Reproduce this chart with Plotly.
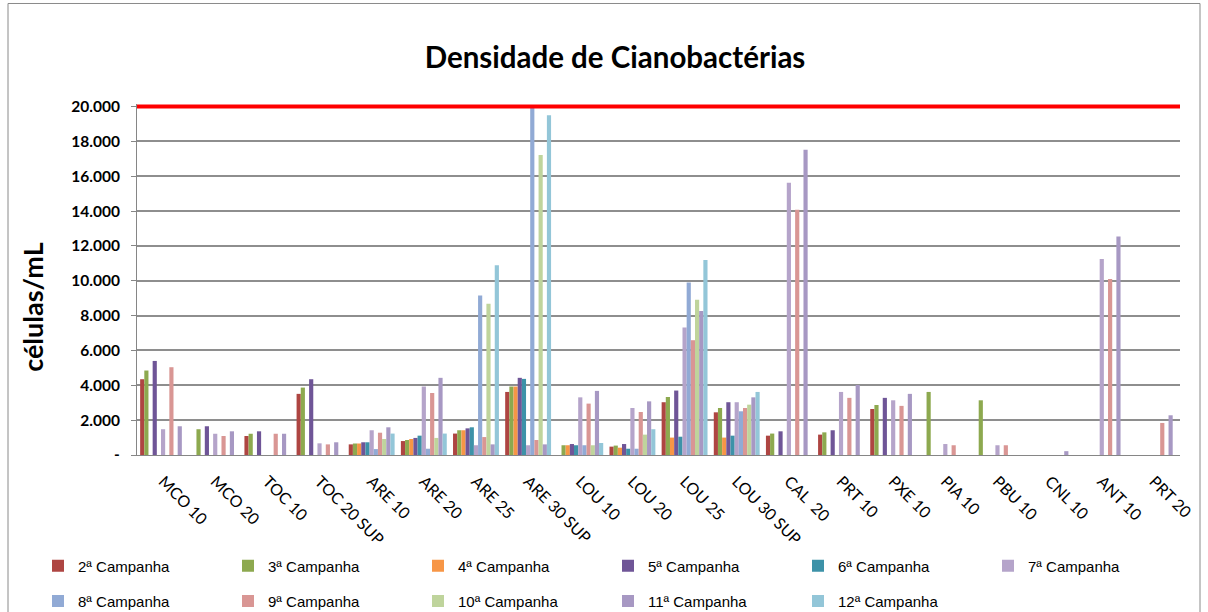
import plotly.graph_objects as go

# Sampling points (x-axis categories)
pontos = ["MCO 10", "MCO 20", "TOC 10", "TOC 20 SUP", "ARE 10", "ARE 20", "ARE 25",
          "ARE 30 SUP", "LOU 10", "LOU 20", "LOU 25", "LOU 30 SUP", "CAL  20", "PRT 10",
          "PXE 10", "PIA 10", "PBU 10", "CNL 10", "ANT 10", "PRT 20"]

campanhas = ["2ª Campanha", "3ª Campanha", "4ª Campanha", "5ª Campanha", "6ª Campanha",
             "7ª Campanha", "8ª Campanha", "9ª Campanha", "10ª Campanha", "11ª Campanha",
             "12ª Campanha"]

N = None
# Cyanobacteria density (cells/mL) per campaign, one value per sampling point
camp02 = [4350, N, 1090, 3510, 610, 800, 1230, 3620, N, 480, 3030, 2450, 1110, 1170, 2640, N, N, N, N, N]
camp03 = [4850, 1480, 1220, 3870, 660, 860, 1420, 3930, 560, 540, 3330, 2700, 1230, 1300, 2870, 3620, 3140, N, N, N]
camp04 = [N, N, N, N, 660, 920, 1420, 3930, 560, 420, 1000, 1000, N, N, N, N, N, N, N, N]
camp05 = [5400, 1650, 1360, 4350, 730, 980, 1530, 4430, 630, 630, 3700, 3030, 1360, 1420, 3280, N, N, N, N, N]
camp06 = [N, N, N, N, 730, 1110, 1590, 4370, 560, 360, 1050, 1110, N, N, N, N, N, N, N, N]
camp07 = [1480, 1220, N, 670, 1420, 3930, 560, 560, 3310, 2700, 7320, 3030, 15630, 3620, 3140, 630, 560, N, 11250, N]
camp08 = [N, N, N, N, 340, 360, 9160, 20000, 560, 360, 9900, 2510, N, N, N, N, N, N, N, N]
camp09 = [5040, 1090, 1220, 610, 1280, 3560, 1030, 860, 2950, 2470, 6590, 2700, 14080, 3280, 2820, 560, 560, N, 10100, 1840]
camp10 = [N, N, N, N, 920, 980, 8680, 17220, 560, 1170, 8910, 2890, N, N, N, N, N, N, N, N]
camp11 = [1650, 1360, 1220, 730, 1590, 4430, 610, 610, 3680, 3080, 8260, 3310, 17530, 4020, 3510, N, N, 220, 12550, 2280]
camp12 = [N, N, N, N, 1230, 1230, 10900, 19500, 690, 1480, 11190, 3620, N, N, N, N, N, N, N, N]

series = [camp02, camp03, camp04, camp05, camp06, camp07, camp08, camp09, camp10, camp11, camp12]

cores = ["#AE4542", "#8DA94F", "#F79646", "#6F5597", "#3D92A8", "#B5A4CA",
         "#91AAD5", "#D99694", "#BFD49C", "#A798C3", "#93C6D8"]

# Reference limit (cells/mL)
limite = 20000

y_ticks = [0, 2000, 4000, 6000, 8000, 10000, 12000, 14000, 16000, 18000, 20000]
y_labels = ["-", "2.000", "4.000", "6.000", "8.000", "10.000", "12.000", "14.000",
            "16.000", "18.000", "20.000"]
y_max = 20150

fig = go.Figure()
for i, (nome, vals, cor) in enumerate(zip(campanhas, series, cores)):
    fig.add_trace(go.Bar(
        x=pontos, y=vals, name=nome, marker_color=cor,
        marker_line_width=0,
        legend="legend" if i < 6 else "legend2",
    ))

W, H = 1208, 612
ml, mr, mb = 137, 28, 157
y_top_px = 107                      # pixel row of the 20.000 gridline
ph = (H - mb - y_top_px) * y_max / 20000
mt = H - mb - ph
pw = W - ml - mr

def px_x(p):
    return (p - ml) / pw

def px_y(p):
    return (H - mb - p) / ph

legend_font = dict(family="Liberation Sans", size=15, color="#000000")
legend_common = dict(orientation="h", xref="paper", x=px_x(38), xanchor="left",
                     yref="paper", yanchor="middle",
                     entrywidth=145, entrywidthmode="pixels",
                     font=legend_font, bgcolor="rgba(0,0,0,0)", itemclick=False)

fig.update_layout(
    width=W, height=H,
    margin=dict(l=ml, r=mr, t=mt, b=mb, autoexpand=False),
    paper_bgcolor="white", plot_bgcolor="white",
    barmode="group", bargap=0.12, bargroupgap=0,
    title=dict(text="<b>Densidade de Cianobactérias</b>", x=615 / W, xref="container",
               xanchor="center", y=1 - 58 / H, yanchor="middle",
               font=dict(family="Lato", size=29.5, color="#000000")),
    xaxis=dict(type="category", showline=True, linecolor="#868686", linewidth=1,
               tickangle=45, ticks="", showgrid=False, ticklabelstandoff=10,
               tickfont=dict(family="Lato", size=16, color="#000000")),
    yaxis=dict(range=[0, y_max], tickvals=y_ticks, ticktext=y_labels,
               showline=True, linecolor="#868686", linewidth=1,
               ticks="outside", ticklen=5, tickcolor="#868686",
               showgrid=True, gridcolor="#8E8E8E", gridwidth=1.5,
               zeroline=False, ticklabelstandoff=8,
               tickfont=dict(family="Lato", size=15.5, color="#000000", weight="bold")),
    legend=dict(y=px_y(566), **legend_common),
    legend2=dict(y=px_y(601), **legend_common),
    showlegend=True,
)

# Axis title drawn as an annotation
fig.add_annotation(text="<b>células/mL</b>", xref="paper", yref="paper",
                   x=px_x(33), y=px_y(307), textangle=-90, showarrow=False,
                   xanchor="center", yanchor="middle",
                   font=dict(family="Lato", size=27, color="#000000"))

# Limit line
fig.add_shape(type="line", xref="paper", yref="y", x0=0, x1=1, y0=limite, y1=limite,
              line=dict(color="#FF0000", width=4))

# Chart frame
fig.add_shape(type="rect", xref="paper", yref="paper",
              x0=px_x(8), x1=px_x(1200), y0=px_y(640), y1=px_y(4),
              line=dict(color="#8A8A8A", width=1), fillcolor="rgba(0,0,0,0)")

fig.write_html("out.html")
